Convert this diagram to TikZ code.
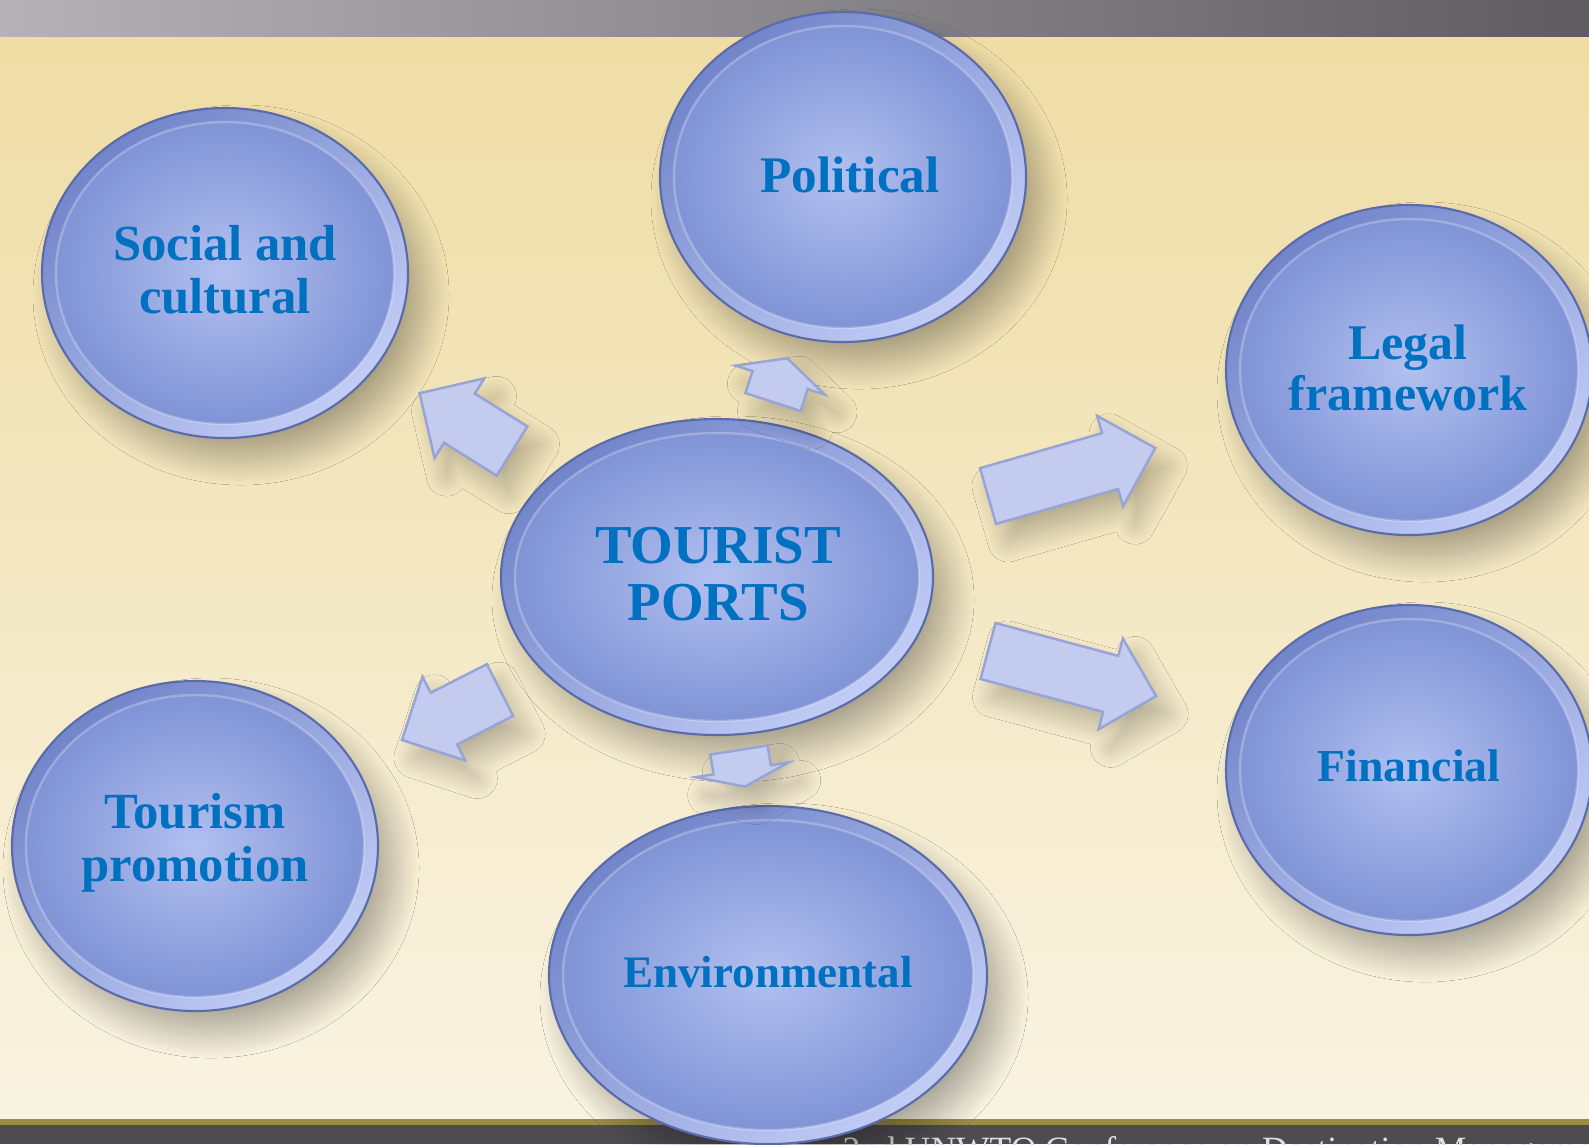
\documentclass[tikz,border=0pt]{standalone}
\usepackage{fontspec}
\setmainfont{Liberation Serif}
\usepackage{tikz}
\usetikzlibrary{shadows.blur}
\definecolor{portblue}{HTML}{0070C0}
\definecolor{facelight}{HTML}{B2C0F0}
\definecolor{facedark}{HTML}{8094D6}
\definecolor{rimlight}{HTML}{C2CDF6}
\definecolor{rimdark}{HTML}{7285CA}
\definecolor{rimline}{HTML}{5A6BAA}
\definecolor{arrowfill}{HTML}{C3CBEE}
\definecolor{arrowline}{HTML}{98A3D6}
\definecolor{bgtop}{HTML}{EFDDA5}
\definecolor{bgbottom}{HTML}{F9F3E2}
\definecolor{barleft}{HTML}{B4B2B7}
\definecolor{barright}{HTML}{5E5B61}
\definecolor{goldline}{HTML}{9B8A48}
\definecolor{footbar}{HTML}{4E4C51}
\tikzset{%
	bubble rim/.style  = {draw=rimline, line width=0.6pt, top color=rimdark, bottom color=rimlight, shading angle=40,
		blur shadow={shadow xshift=0.16cm, shadow yshift=-0.22cm, shadow blur radius=0.25cm, shadow blur steps=30, shadow opacity=30}},
	bubble face/.style = {inner color=facelight, outer color=facedark, draw=white, draw opacity=0.25, line width=0.7pt},
	block arrow/.style = {fill=arrowfill, draw=arrowline, line width=0.7pt, line join=miter,
		blur shadow={shadow xshift=0.12cm, shadow yshift=-0.18cm, shadow blur radius=0.2cm, shadow blur steps=30, shadow opacity=25}},
	bubtext/.style     = {text=portblue, font=\bfseries\fontsize{14.4}{15}\selectfont, align=center, inner sep=0pt},
	foottext/.style    = {text=white!88!black, font=\fontsize{10.1}{12}\selectfont, inner sep=0pt},
}
% one bubble: centre x, centre y, x radius, y radius
\newcommand{\bubble}[4]{%
	\path[bubble rim] (#1,#2) ellipse [x radius=#3, y radius=#4];
	\path[bubble face] (#1,#2) ellipse [x radius={#3-14}, y radius={#4-14}];
}
% one block arrow: tail x, tail y, angle, length, head length
\newcommand{\blockarrow}[5]{%
	\begin{scope}[shift={(#1,#2)},rotate=#3]
		\path[block arrow] (0,-29) -- ({#4-#5},-29) -- ({#4-#5},-47) -- (#4,0)
			-- ({#4-#5},47) -- ({#4-#5},29) -- (0,29) -- cycle;
	\end{scope}
}
\begin{document}
\begin{tikzpicture}[x=0.01cm,y=-0.01cm]
	\useasboundingbox (0,0) rectangle (1589,1144);
	\clip (0,0) rectangle (1589,1144);
	% background and bars
	\shade[top color=bgtop, bottom color=bgbottom] (0,36) rectangle (1589,1119);
	\shade[left color=barleft, right color=barright] (0,0) rectangle (1589,36);
	\fill[goldline] (0,1119) rectangle (1589,1125);
	\fill[footbar] (0,1125) rectangle (1589,1144);
	\node[foottext, anchor=base west] (conference) at (842,1161) {2nd UNWTO Conference on Destination Management};
	% bubbles
	\bubble{843}{177}{183}{165}
	\bubble{225}{273}{183}{165}
	\bubble{1409}{370}{183}{165}
	\bubble{1409}{770}{183}{165}
	\bubble{195}{846}{183}{165}
	\bubble{768}{975}{219}{169}
	\bubble{717}{577}{216}{158}
	% arrows
	\blockarrow{512}{451}{148}{109}{47}
	\blockarrow{773}{402}{72}{46}{23}
	\blockarrow{988}{496}{16}{174}{47}
	\blockarrow{988}{651}{-15}{174}{47}
	\blockarrow{500}{690}{207}{110}{47}
	\blockarrow{739}{750}{-81}{37}{17}
	% texts
	\node[bubtext, font=\bfseries\fontsize{15.6}{16.2}\selectfont] (ports) at (718,574) {TOURIST\\PORTS};
	\node[bubtext, font=\bfseries\fontsize{14.6}{15}\selectfont] (political) at (850,175) {Political};
	\node[bubtext] (social) at (225,270) {Social and\\cultural};
	\node[bubtext, font=\bfseries\fontsize{14.2}{14.6}\selectfont] (legal) at (1408,368) {Legal\\framework};
	\node[bubtext, font=\bfseries\fontsize{13}{15}\selectfont] (financial) at (1409,766) {Financial};
	\node[bubtext] (tourism) at (195,843) {Tourism\\promotion};
	\node[bubtext, font=\bfseries\fontsize{12.8}{15}\selectfont] (environmental) at (768,972) {Environmental};
\end{tikzpicture}
\end{document}
